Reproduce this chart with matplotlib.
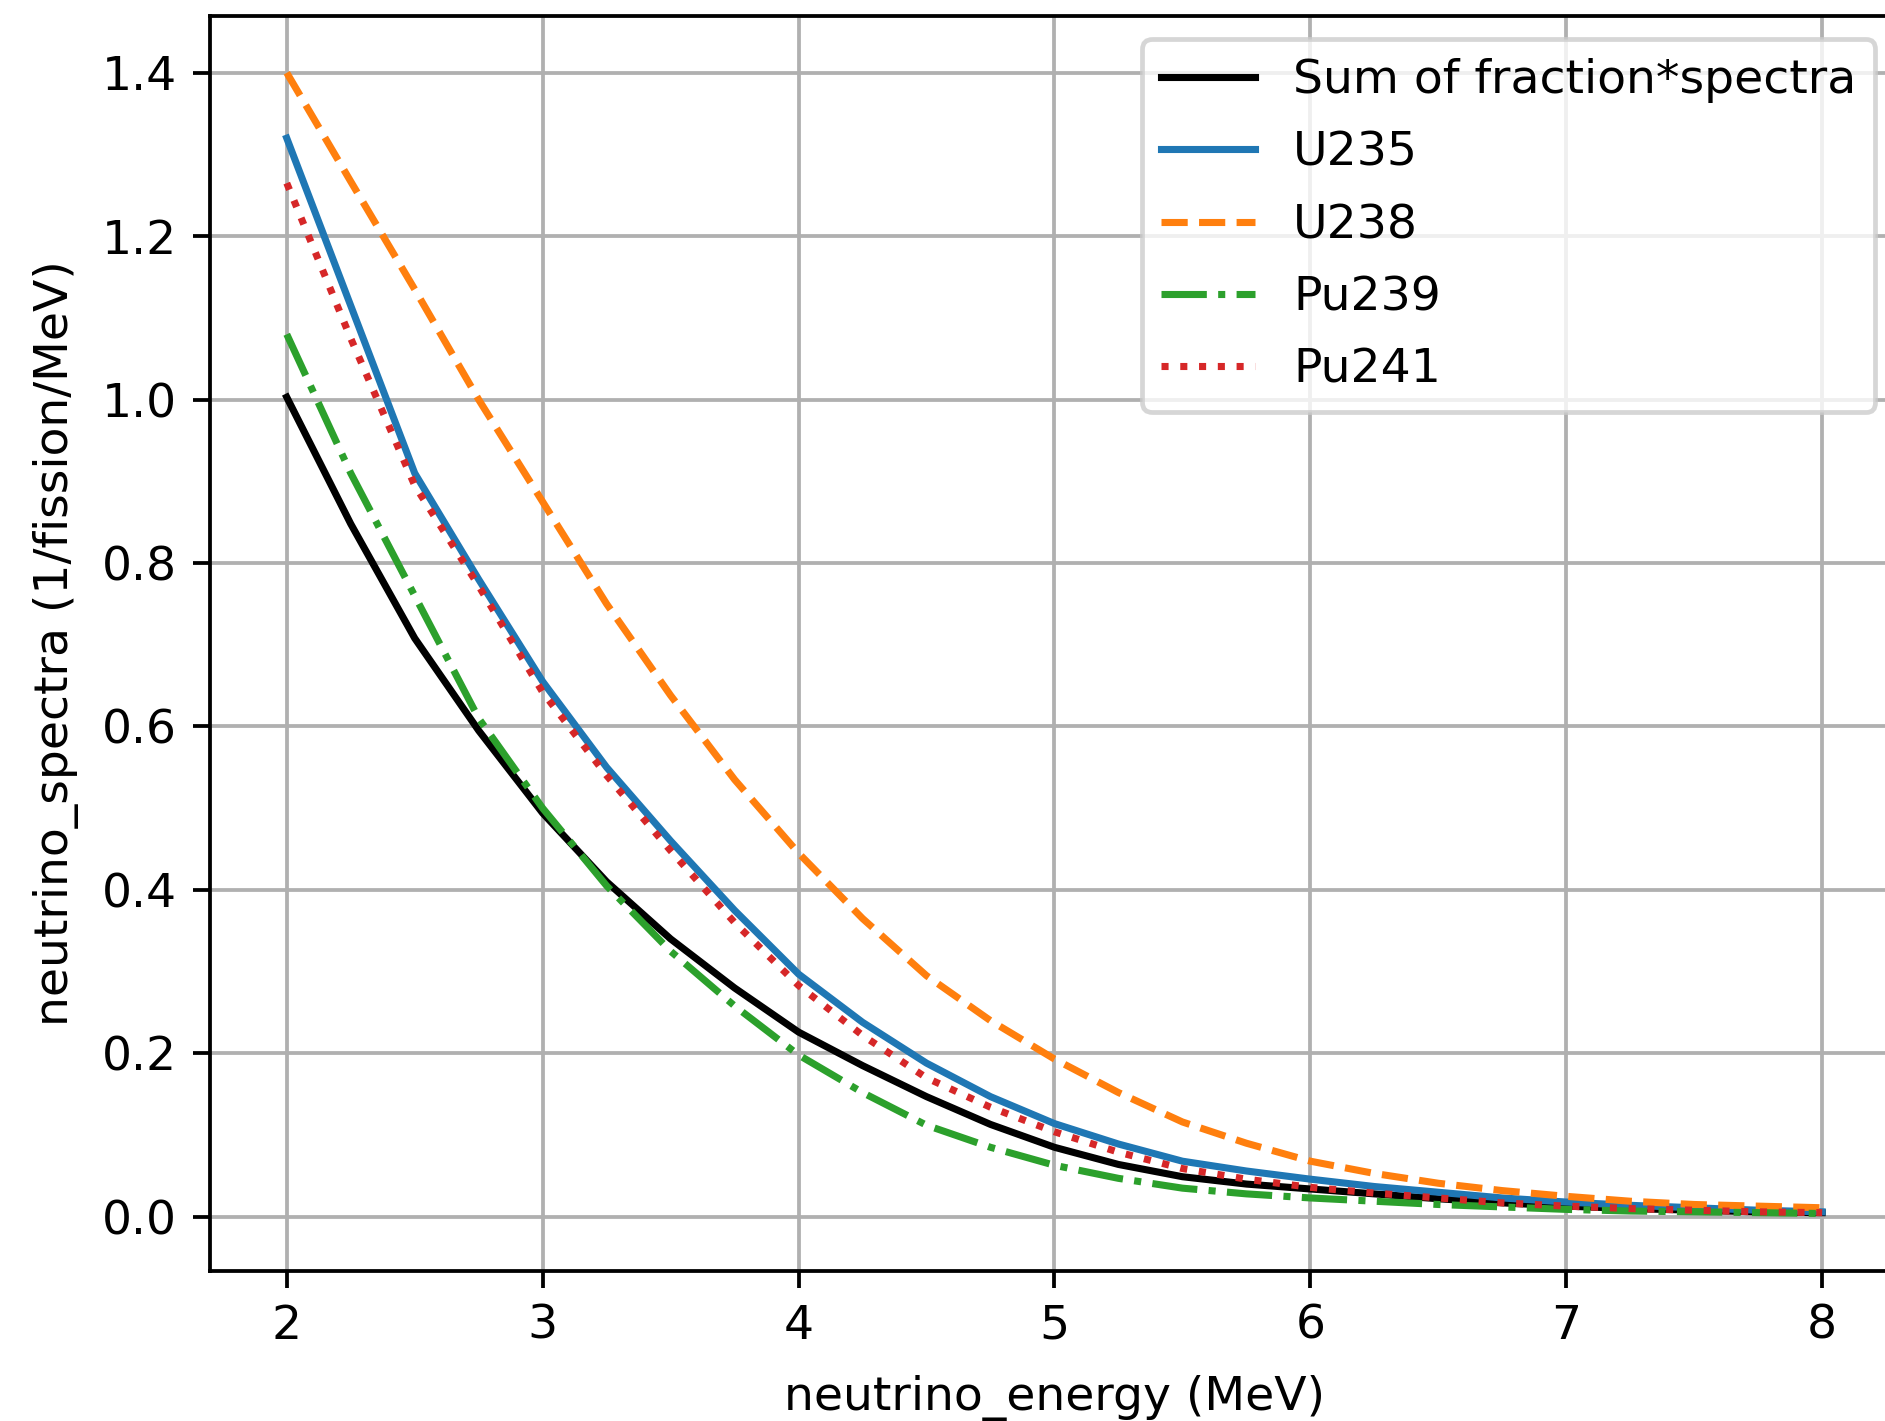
import numpy as np
import matplotlib
matplotlib.use("Agg")
import matplotlib.pyplot as plt

# Energy grid (MeV) and spectra (1/fission/MeV)
energy = [2.0, 2.25, 2.5, 2.75, 3.0, 3.25, 3.5, 3.75, 4.0, 4.25, 4.5, 4.75,
          5.0, 5.25, 5.5, 5.75, 6.0, 6.25, 6.5, 6.75, 7.0, 7.25, 7.5, 7.75, 8.0]

u235 = [1.32, 1.115, 0.91, 0.78, 0.655, 0.55, 0.46, 0.375, 0.297, 0.238,
        0.188, 0.147, 0.114, 0.089, 0.068, 0.056, 0.046, 0.037, 0.030, 0.023,
        0.018, 0.014, 0.011, 0.008, 0.006]

u238 = [1.40, 1.267, 1.135, 1.00, 0.875, 0.75, 0.638, 0.535, 0.445, 0.365,
        0.295, 0.24, 0.193, 0.152, 0.116, 0.09, 0.068, 0.053, 0.041, 0.032,
        0.025, 0.019, 0.015, 0.013, 0.011]

pu239 = [1.08, 0.91, 0.76, 0.61, 0.50, 0.405, 0.325, 0.258, 0.198, 0.152,
         0.112, 0.085, 0.063, 0.047, 0.035, 0.028, 0.023, 0.019, 0.015,
         0.012, 0.009, 0.007, 0.006, 0.005, 0.004]

pu241 = [1.265, 1.075, 0.895, 0.772, 0.642, 0.54, 0.448, 0.36, 0.283, 0.222,
         0.170, 0.134, 0.104, 0.079, 0.059, 0.046, 0.036, 0.029, 0.023,
         0.017, 0.013, 0.010, 0.008, 0.006, 0.005]

total = [1.003, 0.848, 0.708, 0.595, 0.494, 0.41, 0.34, 0.28, 0.226, 0.185,
         0.147, 0.113, 0.085, 0.064, 0.049, 0.040, 0.034, 0.028, 0.022,
         0.017, 0.013, 0.010, 0.008, 0.006, 0.005]

dpi = 340
fig = plt.figure(figsize=(1885 / dpi, 1421 / dpi), dpi=dpi)
# axes run past the right edge of the figure, like the cropped original
ax = fig.add_axes([0.1114, 0.1059, 0.896, 0.883])

ax.plot(energy, total, color="black", label="Sum of fraction*spectra")
ax.plot(energy, u235, color="tab:blue", label="U235")
ax.plot(energy, u238, color="tab:orange", linestyle="--", label="U238")
ax.plot(energy, pu239, color="tab:green", linestyle="-.", label="Pu239")
ax.plot(energy, pu241, color="tab:red", linestyle=":", label="Pu241")

ax.set_xlabel("neutrino_energy (MeV)", labelpad=5.5)
ax.set_ylabel("neutrino_spectra (1/fission/MeV)", labelpad=4.8)
ax.grid(True)
ax.legend(loc="upper right", labelspacing=0.58)

fig.savefig("out.png", dpi=dpi)
